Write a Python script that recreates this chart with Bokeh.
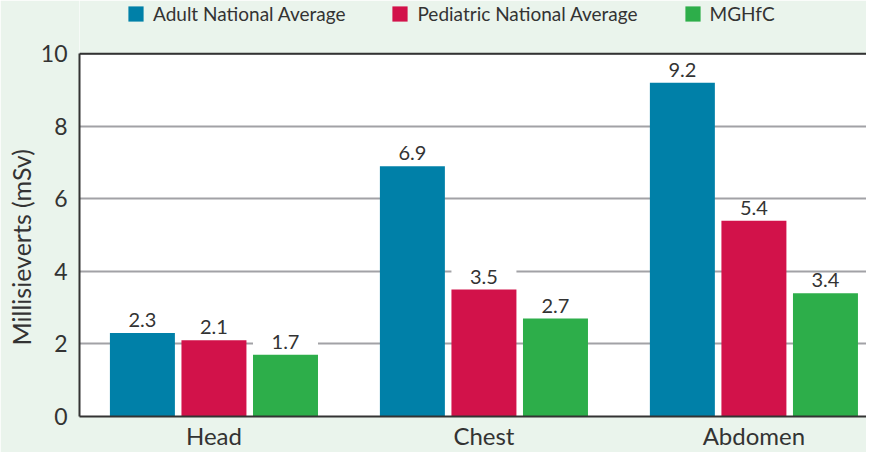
from bokeh.plotting import figure
from bokeh.models import (ColumnDataSource, Range1d, FixedTicker, Legend, LegendItem,
                          LabelSet, Span, BoxAnnotation, Title)
from bokeh.core.properties import value
from bokeh.transform import dodge
from bokeh.embed import file_html
from bokeh.resources import INLINE

categories = ["Head", "Chest", "Abdomen"]
series_names = ["Adult National Average", "Pediatric National Average", "MGHfC"]
adult = [2.3, 6.9, 9.2]
pediatric = [2.1, 3.5, 5.4]
mghfc = [1.7, 2.7, 3.4]
y_ticks = [0, 2, 4, 6, 8, 10]
y_max = 10
y_title = "Millisieverts (mSv)"

colors = ["#0080A8", "#D2124A", "#2DAE4A"]
FONT = "Lato"
TXT = "#333333"
BG = "#EAF4EC"

idx = list(range(len(categories)))
src = ColumnDataSource(dict(
    x=idx, adult=adult, pediatric=pediatric, mghfc=mghfc,
    adult_top=[v + 0.55 for v in adult],
    pediatric_top=[v + 0.55 for v in pediatric],
    mghfc_top=[v + 0.55 for v in mghfc],
    adult_lbl=[f"{v:.1f}" for v in adult],
    pediatric_lbl=[f"{v:.1f}" for v in pediatric],
    mghfc_lbl=[f"{v:.1f}" for v in mghfc],
))

p = figure(width=866, height=452, output_backend="svg", toolbar_location=None,
           x_range=Range1d(-0.498, 2.417), y_range=Range1d(0, 11.47),
           min_border_left=79, min_border_right=0, min_border_top=0, min_border_bottom=30)
p.border_fill_color = BG
p.background_fill_color = "white"
p.outline_line_color = None

# green header band above the plotting area (holds the legend)
p.add_layout(BoxAnnotation(bottom=y_max, fill_color=BG, fill_alpha=1, line_color=None,
                           level="underlay"))

bw = 0.2407
off = 0.265
keys = ["adult", "pediatric", "mghfc"]
items = []
for k, name, c, o in zip(keys, series_names, colors, [-off, 0, off]):
    # white label backing box
    p.vbar(x=dodge("x", o, range=p.x_range), bottom=k, top=k + "_top", width=bw,
           fill_color="white", line_color=None, source=src)
    r = p.vbar(x=dodge("x", o, range=p.x_range), top=k, bottom=0, width=bw,
               fill_color=c, line_color=None, source=src)
    items.append(LegendItem(label=name, renderers=[r]))
    src.data[k + "_x"] = [i + o for i in idx]
    lbl = LabelSet(x=k + "_x", y=k, text=k + "_lbl", source=src, text_align="center",
                   text_baseline="alphabetic", y_offset=6, text_font=value(FONT),
                   text_font_size="20px", text_color=TXT)
    p.add_layout(lbl)

p.add_layout(Span(location=y_max, dimension="width", line_color="#333333", line_width=2))

legend = Legend(items=items, orientation="horizontal", location=(47, 391),
                glyph_width=19, glyph_height=19, label_standoff=8, spacing=45,
                padding=0, margin=0, border_line_color=None, background_fill_alpha=0,
                label_text_font=FONT, label_text_font_size="19px", label_text_color=TXT,
                label_height=19)
p.add_layout(legend, "center")

p.ygrid.ticker = FixedTicker(ticks=y_ticks)
p.ygrid.grid_line_color = "#A2A2A6"
p.ygrid.grid_line_width = 2
p.xgrid.grid_line_color = None

p.yaxis.ticker = FixedTicker(ticks=y_ticks)
p.yaxis.bounds = (0, y_max)
p.yaxis.major_label_text_font = FONT
p.yaxis.major_label_text_font_size = "23px"
p.yaxis.major_label_text_color = TXT
p.yaxis.major_label_standoff = 12
p.yaxis.major_tick_out = 0
p.yaxis.major_tick_in = 0
p.yaxis.minor_tick_out = 0
p.yaxis.minor_tick_in = 0
p.yaxis.major_tick_line_color = None
p.yaxis.minor_tick_line_color = None
p.yaxis.axis_line_color = "#333333"
p.yaxis.axis_line_width = 2

# y-axis title as a side title so it can sit on the 0-10 plotting area
p.add_layout(Title(text=y_title, align="left", offset=71, standoff=4,
                   text_font=FONT, text_font_size="25px", text_font_style="normal",
                   text_color=TXT), "left")

p.xaxis.ticker = FixedTicker(ticks=idx)
p.xaxis.major_label_overrides = {i: c for i, c in zip(idx, categories)}
p.xaxis.major_label_text_font = FONT
p.xaxis.major_label_text_font_size = "24px"
p.xaxis.major_label_text_color = TXT
p.xaxis.major_label_standoff = 4
p.xaxis.major_tick_out = 0
p.xaxis.major_tick_in = 0
p.xaxis.minor_tick_out = 0
p.xaxis.minor_tick_in = 0
p.xaxis.major_tick_line_color = None
p.xaxis.minor_tick_line_color = None
p.xaxis.axis_line_color = "#333333"
p.xaxis.axis_line_width = 2

open("out.html", "w").write(file_html(p, INLINE))
